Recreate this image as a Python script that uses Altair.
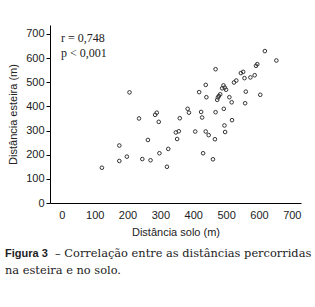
import altair as alt
import pandas as pd

solo = [122, 175, 175, 198, 206, 235, 245, 262, 270, 284, 289, 295, 297,
        320, 324, 347, 351, 356, 359, 383, 387, 406, 418, 424, 427, 430,
        438, 438, 440, 447, 460, 466, 468, 468, 473, 475, 478, 482, 488,
        492, 493, 495, 497, 496, 500, 510, 517, 518, 524, 531, 545, 552,
        556, 558, 560, 574, 587, 591, 595, 604, 618, 653]
esteira = [146, 174, 238, 192, 458, 350, 182, 261, 177, 365, 374, 336, 206,
           150, 224, 292, 265, 297, 351, 390, 374, 296, 459, 377, 354, 206,
           489, 296, 438, 281, 181, 264, 554, 376, 427, 437, 443, 450, 475,
           487, 390, 321, 294, 478, 469, 438, 417, 343, 499, 507, 538, 543,
           517, 413, 461, 520, 529, 568, 575, 448, 629, 590]

x_ticks = [0, 100, 200, 300, 400, 500, 600, 700]
y_ticks = [0, 100, 200, 300, 400, 500, 600, 700]

stats = ["r = 0,748", "p < 0,001"]
caption_bold = "Figura 3"
caption_line1 = "– Correlação entre as distâncias percorridas"
caption_line2 = "na esteira e no solo."

df = pd.DataFrame({"solo": solo, "esteira": esteira})

points = alt.Chart(df).mark_point(
    shape="circle", filled=False, size=13, strokeWidth=1, color="#333333", opacity=1
).encode(
    x=alt.X("solo:Q", scale=alt.Scale(domain=[-36, 728], nice=False, zero=False),
            axis=alt.Axis(values=x_ticks, title="Distância solo (m)", ticks=False,
                          labelPadding=6, grid=False, titlePadding=6)),
    y=alt.Y("esteira:Q", scale=alt.Scale(domain=[0, 737], nice=False),
            axis=alt.Axis(values=y_ticks, title="Distância esteira (m)", tickSize=4,
                          labelPadding=2, grid=False, titlePadding=7)),
)

stat_r = alt.Chart(pd.DataFrame({"t": [stats[0]]})).mark_text(
    align="left", baseline="middle", font="Liberation Serif", fontSize=12, color="#222"
).encode(x=alt.value(11), y=alt.value(13), text="t:N")
stat_p = alt.Chart(pd.DataFrame({"t": [stats[1]]})).mark_text(
    align="left", baseline="middle", font="Liberation Serif", fontSize=12, color="#222"
).encode(x=alt.value(11), y=alt.value(28), text="t:N")

cap_b = alt.Chart(pd.DataFrame({"t": [caption_bold]})).mark_text(
    align="left", baseline="middle", font="Liberation Sans", fontSize=11,
    fontWeight="bold", color="#222"
).encode(x=alt.value(-45), y=alt.value(229), text="t:N")
cap_1 = alt.Chart(pd.DataFrame({"t": [caption_line1]})).mark_text(
    align="left", baseline="middle", font="DejaVu Serif", fontSize=11.4, color="#222"
).encode(x=alt.value(5), y=alt.value(229), text="t:N")
cap_2 = alt.Chart(pd.DataFrame({"t": [caption_line2]})).mark_text(
    align="left", baseline="middle", font="DejaVu Serif", fontSize=11.4, color="#222"
).encode(x=alt.value(-45), y=alt.value(246), text="t:N")

chart = alt.layer(points, stat_r, stat_p, cap_b, cap_1, cap_2).properties(
    width=251, height=178,
    autosize=alt.AutoSizeParams(type="none"),
    padding={"left": 50, "top": 25, "right": 14, "bottom": 104},
    background="white",
).configure_view(stroke=None).configure_axis(
    domainColor="#000", domainWidth=1, tickColor="#000", labelColor="#222",
    titleColor="#222", labelFont="Liberation Sans", titleFont="Liberation Sans",
    labelFontSize=11, titleFontSize=11, titleFontWeight="normal",
)

chart.save("out.html", embed_options={"renderer": "svg", "actions": False})
